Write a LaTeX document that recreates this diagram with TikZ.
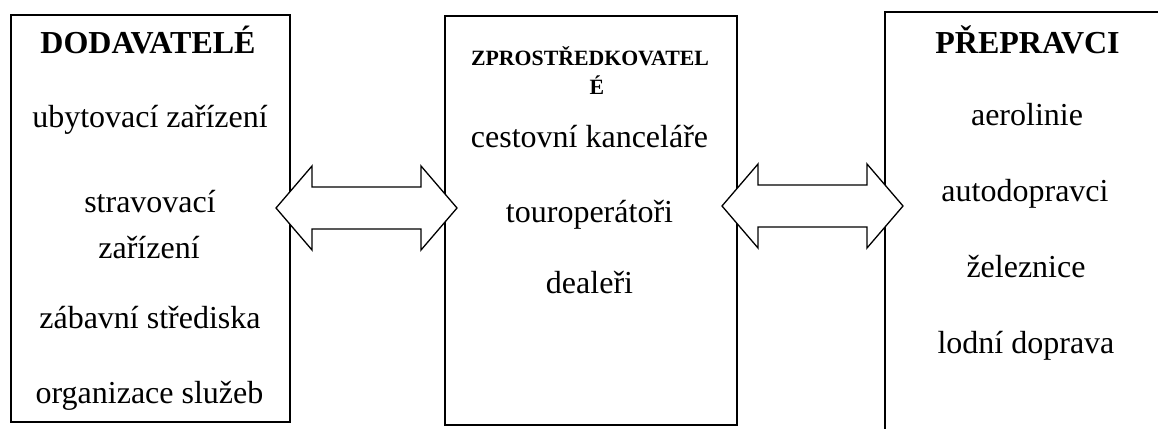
\documentclass[tikz,border=0pt]{standalone}
\usepackage{fontspec}
\setmainfont{Liberation Serif}
\begin{document}
\begin{tikzpicture}[
  x=1pt, y=-1pt,
  panel/.style={draw, line width=1.7pt, inner sep=0pt, anchor=north west},
  head/.style={font=\fontsize{32}{38}\selectfont\bfseries, anchor=base, inner sep=0pt},
  subhead/.style={font=\fontsize{21.8}{26}\selectfont\bfseries, anchor=base, inner sep=0pt},
  item/.style={font=\fontsize{32}{38}\selectfont, anchor=base, inner sep=0pt},
  dblarrow/.pic={
    \draw[line width=1.3pt, fill=white, line join=miter]
      (-90.5,0) -- (-54.5,-42) -- (-54.5,-21) -- (54.5,-21) -- (54.5,-42)
      -- (90.5,0) -- (54.5,42) -- (54.5,21) -- (-54.5,21) -- (-54.5,42) -- cycle;
  }
]
\useasboundingbox (0,0) rectangle (1158,428);
\fill[white] (0,0) rectangle (1158,428);
\clip (0,0) rectangle (1158,428);

% the three panels
\node[panel, minimum width=279pt, minimum height=407pt] (supp) at (10,14) {};
\node[panel, minimum width=292pt, minimum height=409pt] (mid) at (444,15) {};
\node[panel, minimum width=400pt, minimum height=460pt] (carr) at (884,11) {};

% two-way block arrows between the panels
\pic (linkA) at (366.5,208) {dblarrow};
\pic (linkB) at (812.5,206) {dblarrow};

% suppliers
\node[head] (suppT) at (148,53) {DODAVATELÉ};
\node[item] (s1) at (150,127) {ubytovací zařízení};
\node[item] (s2) at (150,212) {stravovací};
\node[item] (s2b) at (149,258) {zařízení};
\node[item] (s3) at (150,328) {zábavní střediska};
\node[item] (s4) at (149.5,403) {organizace služeb};

% intermediaries
\node[subhead] (midT) at (590,65) {ZPROSTŘEDKOVATEL};
\node[subhead] (midT2) at (597,94) {É};
\node[item] (m1) at (589.5,147) {cestovní kanceláře};
\node[item] (m2) at (589.5,222) {touroperátoři};
\node[item] (m3) at (589.5,293) {dealeři};

% carriers
\node[head] (carrT) at (1027.5,53) {PŘEPRAVCI};
\node[item] (c1) at (1027,125) {aerolinie};
\node[item] (c2) at (1025,201) {autodopravci};
\node[item] (c3) at (1026,277) {železnice};
\node[item] (c4) at (1026,353) {lodní doprava};
\end{tikzpicture}
\end{document}
